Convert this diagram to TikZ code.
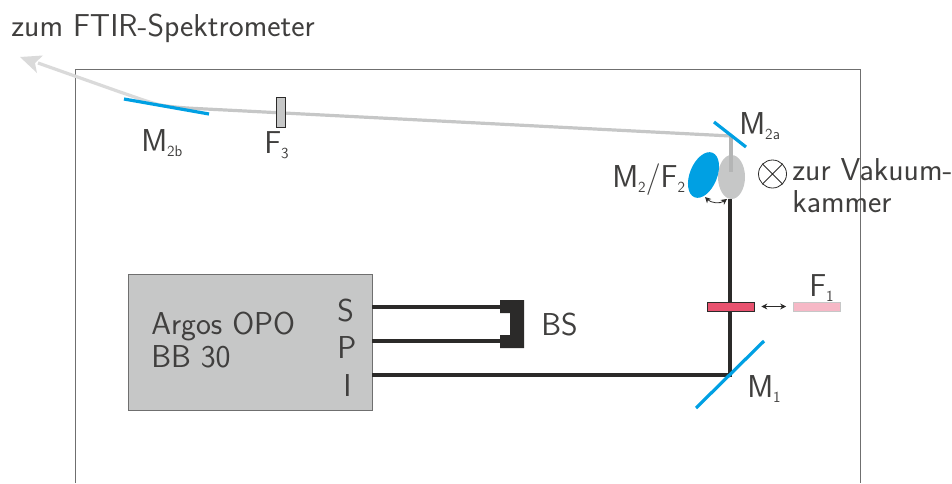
\documentclass[tikz,border=0pt]{standalone}
\usetikzlibrary{arrows.meta,shapes.geometric}
\definecolor{mblue}{HTML}{00A0E3}
\definecolor{mred}{HTML}{E8526F}
\definecolor{mpink}{HTML}{F6B8C6}
\definecolor{mgray}{HTML}{C6C7C7}
\definecolor{mdark}{HTML}{2B2A29}
\definecolor{mframe}{HTML}{6F6F6F}
\definecolor{mlight}{HTML}{DADADA}
\definecolor{mvert}{HTML}{B4B5B5}
\renewcommand{\familydefault}{\sfdefault}
\tikzset{
 lab/.style={inner sep=0pt,text=mdark!90,anchor=base west,font=\fontsize{23.75}{27}\selectfont},
 beam/.style={draw=mdark,line width=2.4pt},
 gbeam/.style={draw=mgray,line width=2.4pt},
 mirror/.style={draw=mblue,line width=2.4pt},
 filterbox/.style={line width=0.5pt,minimum width=35.25pt,minimum height=6.75pt,inner sep=0pt},
 dbl/.style={{Stealth[length=4.5pt,width=4.5pt]}-{Stealth[length=4.5pt,width=4.5pt]},mdark,line width=0.6pt},
}
\newcommand{\sm}[1]{\raisebox{-0.4ex}{\fontsize{11.5}{13}\selectfont #1}}
\begin{document}
\begin{tikzpicture}[x=0.75pt,y=-0.75pt]
\useasboundingbox (0,0) rectangle (952,483);
% frame
\coordinate (fa) at (75.5,483);
\coordinate (fb) at (75.5,69);
\coordinate (fc) at (860,69);
\coordinate (fd) at (860,483);
\draw[mframe,line width=0.7pt] (fa)--(fb)--(fc)--(fd);
% coordinates
\coordinate (m1c) at (730,375);
\coordinate (m2ac) at (731,136);
\coordinate (tip) at (20,57);
\coordinate (gtop) at (731,172);
\coordinate (f2foot) at (730,199);
% gray ellipse, blue ellipse
\node[ellipse,fill=mgray,minimum width=20.25pt,minimum height=33pt,inner sep=0pt] (f2) at (731.5,177) {};
\node[ellipse,fill=mblue,minimum width=20.5pt,minimum height=36pt,inner sep=0pt,rotate=-22] (m2) at (703.5,175) {};
% gray beam
\draw[mlight,line width=2.4pt] (160,105) .. controls (145,101) and (135,97) .. (120,92) -- (38,63);
\fill[mlight] (tip) -- (43,55.5) -- (35,63) -- (37,73) -- cycle;
\draw[gbeam] (m2ac) -- (200,108.7) .. controls (185,108) and (172,107) .. (160,105);
\draw[mvert,line width=2.4pt] (m2ac) -- (gtop);
% box
\node[draw=mframe,fill=mgray,line width=0.6pt,minimum width=183pt,minimum height=102pt,inner sep=0pt] (opo) at (250,342) {};
\coordinate (sout) at (372,307);
\coordinate (pout) at (372,341);
\coordinate (iout) at (372,375);
\coordinate (bs1) at (505,307);
\coordinate (bs2) at (505,341);
\draw[beam] (sout)--(bs1);
\draw[beam] (pout)--(bs2);
\draw[beam] (iout)--(m1c)--(f2foot);
% beam stop
\fill[mdark] (500,300)--(524,300)--(524,348)--(500,348)--(500,335)--(510,335)--(510,313)--(500,313)--cycle;
% mirrors
\coordinate (m1a) at (696,408); \coordinate (m1b) at (764,341);
\draw[mirror] (m1a)--(m1b);
\coordinate (m2aa) at (714,122); \coordinate (m2ab) at (746,147);
\draw[mirror] (m2aa)--(m2ab);
\coordinate (m2ba) at (124,99); \coordinate (m2bb) at (209,114);
\draw[mirror] (m2ba)--(m2bb);
% filters
\node[filterbox,draw=mdark,fill=mred] (f1) at (730.5,306.5) {};
\node[filterbox,draw=mgray,fill=mpink] (f1b) at (817,306.5) {};
\node[draw=mdark,fill=mgray,line width=0.6pt,minimum width=6.75pt,minimum height=22.5pt,inner sep=0pt] (f3) at (280.5,112) {};
% arrows
\draw[dbl] ([xshift=5.25pt]f1.east) -- ([xshift=-5.25pt]f1b.west);
\coordinate (aa) at (705,197); \coordinate (ab) at (727,199);
\draw[dbl] (aa) .. controls (711,203) and (720,204) .. (ab);
% cross circle
\node[draw=mdark,line width=0.6pt,circle,minimum size=21pt,inner sep=0pt] (vac) at (772.5,174) {};
\draw[mdark,line width=0.6pt] (vac.45)--(vac.225) (vac.135)--(vac.315);
% text
\node[lab] (t0) at (11,36) {zum FTIR-Spektrometer};
\node[lab] (t1) at (141,151) {M\sm{2b}};
\node[lab] (t2) at (264,153) {F\sm{3}};
\node[lab] (t3) at (739,134) {M\sm{2a}};
\node[lab] (t4) at (612,187) {M\sm{2}/F\sm{2}};
\node[lab] (t5) at (792,180) {zur Vakuum-};
\node[lab] (t6) at (792,212) {kammer};
\node[lab] (t7) at (809,296) {F\sm{1}};
\node[lab] (t8) at (747,397) {M\sm{1}};
\node[lab] (t9) at (541,335) {BS};
\node[lab] (t10) at (151,334) {Argos OPO};
\node[lab] (t11) at (151,367) {BB 30};
\node[lab] (t12) at (337,321) {S};
\node[lab] (t13) at (337,358) {P};
\node[lab] (t14) at (343,396) {I};
\end{tikzpicture}
\end{document}
